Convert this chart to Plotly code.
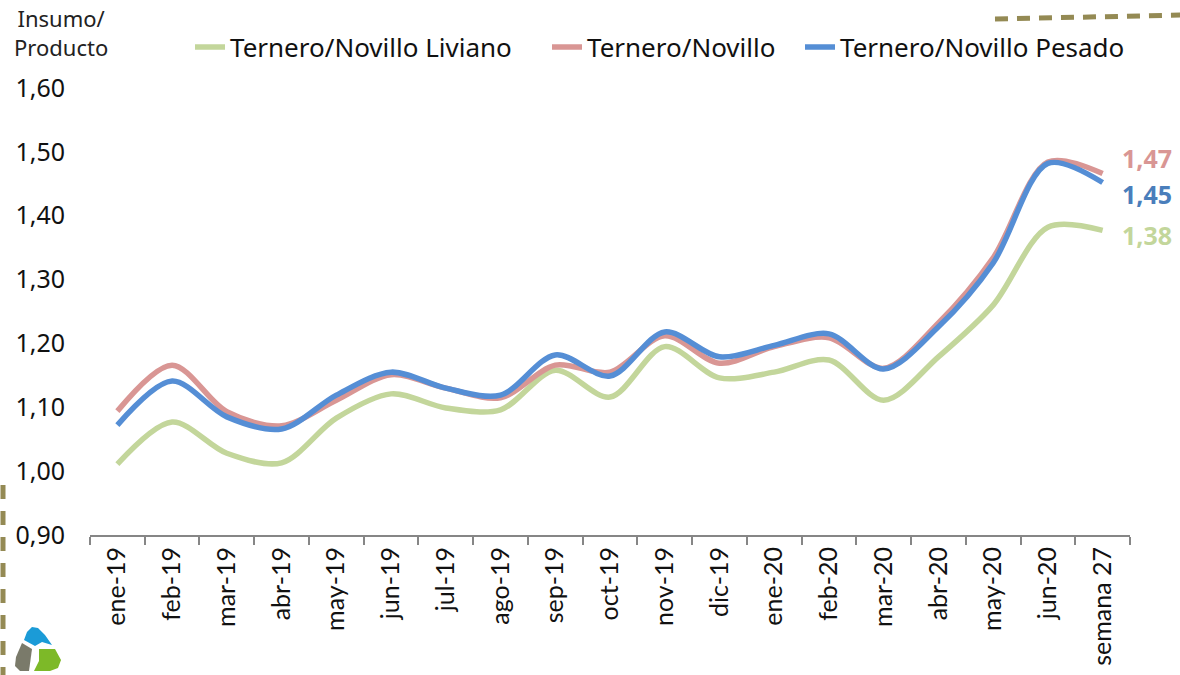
import plotly.graph_objects as go

categories = ["ene-19", "feb-19", "mar-19", "abr-19", "may-19", "jun-19", "jul-19",
              "ago-19", "sep-19", "oct-19", "nov-19", "dic-19", "ene-20", "feb-20",
              "mar-20", "abr-20", "may-20", "jun-20", "semana 27"]

liviano = [1.011, 1.077, 1.028, 1.013, 1.083, 1.121, 1.099, 1.096, 1.158, 1.116,
           1.195, 1.146, 1.155, 1.174, 1.111, 1.179, 1.260, 1.382, 1.377]
novillo = [1.094, 1.166, 1.093, 1.071, 1.111, 1.151, 1.130, 1.115, 1.166, 1.155,
           1.212, 1.169, 1.195, 1.209, 1.161, 1.232, 1.334, 1.484, 1.466]
pesado = [1.072, 1.141, 1.085, 1.066, 1.119, 1.155, 1.130, 1.119, 1.182, 1.149,
          1.218, 1.179, 1.197, 1.215, 1.160, 1.226, 1.326, 1.482, 1.452]

series_names = ["Ternero/Novillo Liviano", "Ternero/Novillo", "Ternero/Novillo Pesado"]
end_labels = ["1,38", "1,47", "1,45"]

W, H = 1180, 675
ML, MR, MT, MB = 90, 50, 88, 140
PW, PH = W - ML - MR, H - MT - MB


def px_x(x):
    return (x - ML) / PW


def px_y(y):
    return (H - MB - y) / PH


fig = go.Figure()

colors = ["#C3D69B", "#D99694", "#558ED5"]
label_colors = ["#C3D69B", "#D99694", "#4A7EBB"]
data = [liviano, novillo, pesado]
legends = ["legend", "legend2", "legend3"]

for name, vals, col, lg in zip(series_names, data, colors, legends):
    fig.add_trace(go.Scatter(
        x=categories, y=vals, name=name, mode="lines",
        line=dict(color=col, width=5.5, shape="spline", smoothing=0.9),
        legend=lg, hoverinfo="skip", cliponaxis=False,
    ))

# end labels
yshifts = [-5, 16, -11]
for vals, txt, col, ys in zip(data, end_labels, label_colors, yshifts):
    fig.add_annotation(x=categories[-1], y=vals[-1], text=txt, showarrow=False,
                       xanchor="left", yanchor="middle", xshift=18, yshift=ys,
                       borderpad=0,
                       font=dict(family="Noto Sans", size=25, color=col, weight="bold"))

# y axis title
fig.add_annotation(xref="paper", yref="paper", x=px_x(61), y=px_y(33),
                   text="Insumo/<br>Producto", showarrow=False, align="center",
                   xanchor="center", yanchor="middle",
                   font=dict(family="Noto Sans", size=22, color="#222222"))

olive = "#948A54"
# decorative dashed lines
fig.add_shape(type="line", xref="paper", yref="paper",
              x0=px_x(995), y0=px_y(19), x1=px_x(1185), y1=px_y(15),
              line=dict(color=olive, width=5, dash="13px,9px"))
fig.add_shape(type="line", xref="paper", yref="paper",
              x0=px_x(3), y0=px_y(485), x1=px_x(3), y1=px_y(680),
              line=dict(color=olive, width=5, dash="14px,12px"))


def path(points):
    s = ""
    for cmd, x, y in points:
        s += f"{cmd} {px_x(x):.5f},{px_y(y):.5f} "
    return s + "Z"


# small logo (approximation)
fig.add_shape(type="path", xref="paper", yref="paper", line=dict(width=0),
              fillcolor="#1B9BD7",
              path=path([("M", 24, 640), ("L", 27, 632), ("L", 32, 627), ("L", 38, 628),
                         ("L", 45, 635), ("L", 52, 645), ("L", 42, 642), ("L", 35, 646)]))
fig.add_shape(type="path", xref="paper", yref="paper", line=dict(width=0),
              fillcolor="#7A7A6A",
              path=path([("M", 22, 643), ("L", 32, 649), ("L", 29, 671), ("L", 20, 671),
                         ("L", 15, 666), ("L", 16, 657)]))
fig.add_shape(type="path", xref="paper", yref="paper", line=dict(width=0),
              fillcolor="#7DB928",
              path=path([("M", 39, 649), ("L", 55, 649), ("L", 61, 660), ("L", 58, 668),
                         ("L", 50, 671), ("L", 34, 671), ("L", 39, 661)]))

leg_common = dict(xanchor="left", yanchor="middle", orientation="h",
                  font=dict(size=26, color="#111111"), bgcolor="rgba(0,0,0,0)")

fig.update_layout(
    width=W, height=H,
    margin=dict(l=ML, r=MR, t=MT, b=MB, autoexpand=False),
    paper_bgcolor="white", plot_bgcolor="white",
    separators=",.",
    font=dict(family="Noto Sans", color="#111111"),
    showlegend=True,
    legend=dict(x=px_x(190), y=px_y(47), **leg_common),
    legend2=dict(x=px_x(547), y=px_y(47), **leg_common),
    legend3=dict(x=px_x(800), y=px_y(47), **leg_common),
    xaxis=dict(type="category", showline=True, linecolor="#868686", linewidth=2,
               ticks="outside", tickson="boundaries", ticklen=8, tickcolor="#868686",
               tickwidth=2, tickangle=-90, showgrid=False, zeroline=False,
               automargin=False,
               tickfont=dict(family="Lato", size=25, color="#111111"),
               range=[-0.5, 18.5]),
    yaxis=dict(range=[0.9, 1.6], dtick=0.1, tick0=0.9, tickformat=".2f",
               showline=False, showgrid=False, zeroline=False, ticks="",
               ticklabelstandoff=24, automargin=False,
               tickfont=dict(family="Noto Sans", size=25, color="#111111")),
)

fig.write_html("out.html", config={"displayModeBar": False},
               post_script="document.body.style.margin='0';document.body.style.overflow='hidden';")
